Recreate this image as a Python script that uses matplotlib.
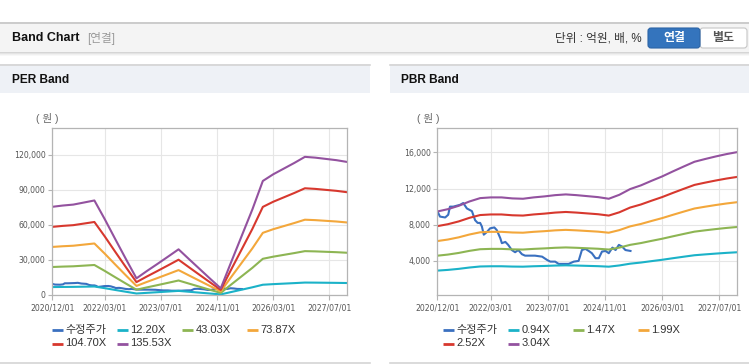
import matplotlib
matplotlib.use("Agg")
import matplotlib.pyplot as plt
import matplotlib.dates as mdates
from matplotlib.patches import Rectangle, FancyBboxPatch
from matplotlib.ticker import FuncFormatter, FixedLocator
import numpy as np
from datetime import datetime

# ---------------- data ----------------
band_dates = ["2020-12-01", "2021-03-01", "2021-06-01", "2021-09-01", "2021-12-01",
              "2022-03-01", "2022-06-01", "2022-09-01", "2022-12-01",
              "2023-03-01", "2023-06-01", "2023-09-01", "2023-12-01",
              "2024-03-01", "2024-06-01", "2024-09-01", "2024-12-01",
              "2025-03-01", "2025-06-01", "2025-09-01", "2025-12-01",
              "2026-03-01", "2026-06-01", "2026-09-01", "2026-12-01",
              "2027-03-01", "2027-06-01", "2027-09-01", "2027-12-01"]

# EPS (won) behind the PER band
eps = [556, 564, 570, 583, 596, 478, 351, 226, 105, 151, 196, 242, 288,
       226, 164, 102, 42, 207, 373, 539, 719, 761, 797, 833, 871, 866, 858, 850, 839]
per_multiples = [12.20, 43.03, 73.87, 104.70, 135.53]
per_labels = ["12.20X", "43.03X", "73.87X", "104.70X", "135.53X"]

# BPS (won) behind the PBR band
bps = [3112, 3197, 3319, 3477, 3599, 3625, 3625, 3589, 3576, 3625, 3661, 3707, 3734,
       3707, 3671, 3635, 3576, 3720, 3928, 4063, 4230, 4388, 4572, 4750, 4921,
       5020, 5115, 5201, 5273]
pbr_multiples = [0.94, 1.47, 1.99, 2.52, 3.04]
pbr_labels = ["0.94X", "1.47X", "1.99X", "2.52X", "3.04X"]

# adjusted share price (수정주가)
price_dates = ["2020-12-01", "2020-12-24", "2021-02-06", "2021-03-04", "2021-03-19", "2021-04-16",
               "2021-06-13", "2021-07-10", "2021-08-10", "2021-09-22", "2021-10-19", "2021-11-10",
               "2021-12-01", "2021-12-16", "2022-01-01", "2022-01-28", "2022-02-24", "2022-04-01",
               "2022-04-22", "2022-05-22", "2022-06-04", "2022-07-04", "2022-07-28", "2022-08-28",
               "2022-09-25", "2022-10-22", "2022-11-22", "2022-12-19", "2023-03-13", "2023-05-13",
               "2023-06-25", "2023-07-22", "2023-09-01", "2023-10-01", "2023-12-25", "2024-02-07",
               "2024-03-19", "2024-04-16", "2024-05-16", "2024-06-13", "2024-07-10", "2024-08-10",
               "2024-09-07", "2024-10-04", "2024-11-04", "2024-12-01", "2025-01-01", "2025-01-28",
               "2025-02-25", "2025-03-25", "2025-04-22", "2025-06-04"]
price = [9500, 8900, 8800, 9100, 10000, 10000, 10200, 10400, 9800, 9500, 8500, 8200,
         8200, 7800, 6900, 7200, 7600, 7700, 7400, 6500, 5960, 6100, 5770, 5200,
         4960, 5200, 4740, 4580, 4580, 4470, 4100, 3920, 3920, 3670, 3670, 3920,
         4000, 5200, 5330, 5100, 4850, 4300, 4300, 5030, 5100, 4850, 5470, 5200,
         5770, 5580, 5200, 5100]

x_tick_dates = ["2020-12-01", "2022-03-01", "2023-07-01", "2024-11-01", "2026-03-01", "2027-07-01"]
per_yticks = [0, 30000, 60000, 90000, 120000]
pbr_yticks = [4000, 8000, 12000, 16000]

price_label = "수정주가"
price_color = "#3a70c0"
band_colors = ["#1bb2c8", "#8db553", "#f3a73b", "#d7382e", "#93529f"]

# ---------------- figure ----------------
W, H = 749, 364
fig = plt.figure(figsize=(W / 100, H / 100), dpi=100)
fig.patch.set_facecolor("white")

KR = ["Liberation Sans", "Noto Sans CJK KR", "DejaVu Sans"]

bg = fig.add_axes([0, 0, 1, 1], zorder=0)
bg.set_xlim(0, W)
bg.set_ylim(H, 0)
bg.axis("off")

# top header bar
bg.add_patch(Rectangle((0, 22), W, 30, facecolor="#f4f4f4", edgecolor="none"))
bg.plot([0, W], [22.5, 22.5], color="#c4c4c4", lw=1.2)
for i, a in enumerate([0.35, 0.22, 0.12, 0.05]):
    bg.add_patch(Rectangle((0, 52 + i), W, 1, facecolor="#888888", alpha=a, edgecolor="none"))

# panel headers
for x0, x1 in [(0, 370), (390, W)]:
    bg.add_patch(Rectangle((x0, 64), x1 - x0, 29, facecolor="#eef1f6", edgecolor="none"))
    bg.plot([x0, x1], [64.5, 64.5], color="#d4d4d4", lw=1.2)
    bg.plot([x0, x1], [363.3, 363.3], color="#d4d4d4", lw=1.2)

bg.text(12, 38, "Band Chart", fontsize=9, fontweight="bold", color="#111111",
        family=KR, va="center", ha="left")
bg.text(87, 38.5, "[연결]", fontsize=8.4, color="#9a9a9a", family=KR, va="center", ha="left")
bg.text(642, 38.5, "단위 : 억원, 배, %", fontsize=8.4, color="#333333", family=KR,
        va="center", ha="right")
bg.add_patch(FancyBboxPatch((700, 28), 47, 20, boxstyle="round,pad=0,rounding_size=3",
                            facecolor="white", edgecolor="#c6c6c6", lw=0.8))
bg.add_patch(FancyBboxPatch((648, 28), 52, 20, boxstyle="round,pad=0,rounding_size=3",
                            facecolor="#3474bd", edgecolor="#2c64a6", lw=0.8))
bg.text(674, 38.5, "연결", fontsize=8.6, color="white", fontweight="bold", family=KR,
        va="center", ha="center")
bg.text(723, 38.5, "별도", fontsize=8.6, color="#555555", fontweight="bold", family=KR,
        va="center", ha="center")

bg.text(12, 80, "PER Band", fontsize=8.6, fontweight="bold", color="#111111", family=KR,
        va="center", ha="left")
bg.text(401, 80, "PBR Band", fontsize=8.6, fontweight="bold", color="#111111", family=KR,
        va="center", ha="left")

bg.text(47, 118, "( 원 )", fontsize=7.6, color="#666666", family=KR, va="center", ha="center")
bg.text(428, 118, "( 원 )", fontsize=7.6, color="#666666", family=KR, va="center", ha="center")

bd = [datetime.strptime(d, "%Y-%m-%d") for d in band_dates]
pd_ = [datetime.strptime(d, "%Y-%m-%d") for d in price_dates]
xt = [datetime.strptime(d, "%Y-%m-%d") for d in x_tick_dates]


def make_axes(px_left, px_top, px_right, px_bottom):
    ax = fig.add_axes([px_left / W, 1 - px_bottom / H, (px_right - px_left) / W,
                       (px_bottom - px_top) / H], zorder=2)
    ax.set_facecolor("white")
    for s in ax.spines.values():
        s.set_color("#b4b4b4")
        s.set_linewidth(0.9)
    ax.grid(True, color="#e6e6e6", lw=0.8)
    ax.set_axisbelow(True)
    ax.xaxis.set_major_locator(FixedLocator(mdates.date2num(xt)))
    ax.xaxis.set_major_formatter(mdates.DateFormatter("%Y/%m/%d"))
    ax.yaxis.set_major_formatter(FuncFormatter(lambda v, p: f"{v:,.0f}"))
    ax.tick_params(axis="both", labelsize=5.6, colors="#b4b4b4", labelcolor="#555555",
                   width=0.8)
    ax.tick_params(axis="x", length=3.6, pad=2.5)
    ax.tick_params(axis="y", length=2.9, pad=2.0)
    ax.set_xlim(datetime(2020, 12, 1), datetime(2027, 12, 1))
    return ax


def band_values(base, mult):
    return [b * mult for b in base]


ax1 = make_axes(52.3, 128, 347, 295)
ax1.plot(pd_, price, color=price_color, lw=1.5)
for m, c in zip(per_multiples, band_colors):
    ax1.plot(bd, band_values(eps, m), color=c, lw=1.5)
ax1.set_ylim(0, 142700)
ax1.set_yticks(per_yticks)

ax2 = make_axes(437.3, 128.3, 737.3, 295)
ax2.plot(pd_, price, color=price_color, lw=1.5)
for m, c in zip(pbr_multiples, band_colors):
    ax2.plot(bd, band_values(bps, m), color=c, lw=1.5)
ax2.set_ylim(230, 18660)
ax2.set_yticks(pbr_yticks)

for ax in (ax1, ax2):
    for lab in ax.get_xticklabels() + ax.get_yticklabels():
        lab.set_family("DejaVu Sans")

# ---------------- legends ----------------
top = fig.add_axes([0, 0, 1, 1], zorder=3)
top.set_xlim(0, W)
top.set_ylim(H, 0)
top.axis("off")


def legend(x0, labels, colors):
    col_x = [x0, x0 + 65, x0 + 130, x0 + 195]
    for i, (lab, c) in enumerate(zip(labels, colors)):
        r, k = divmod(i, 4)
        y = 330 + r * 13.5
        x = col_x[k]
        top.plot([x, x + 11], [y, y], color=c, lw=2.0, solid_capstyle="butt")
        top.text(x + 13.5, y, lab, fontsize=8, color="#333333", family=KR,
                 va="center", ha="left")


legend(52, [price_label] + per_labels, [price_color] + band_colors)
legend(443, [price_label] + pbr_labels, [price_color] + band_colors)

fig.savefig("out.png", dpi=100, facecolor="white")
